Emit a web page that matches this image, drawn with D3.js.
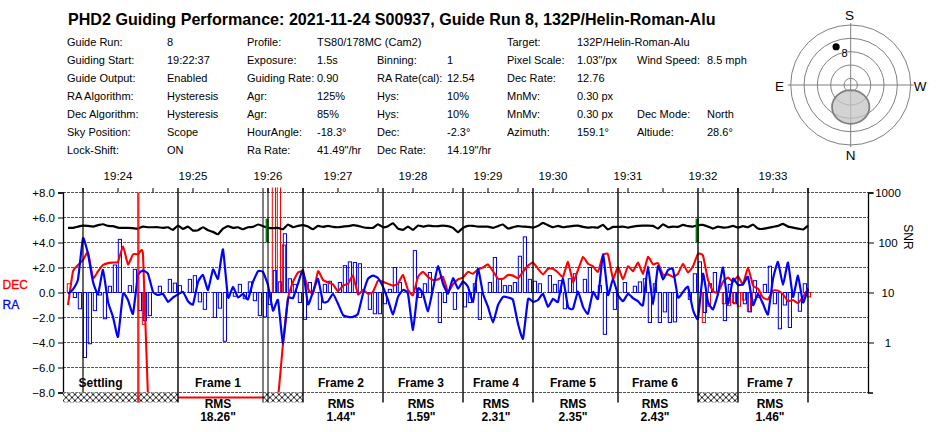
<!DOCTYPE html>
<html>
<head>
<meta charset="utf-8">
<script src="https://cdn.jsdelivr.net/npm/d3@7/dist/d3.min.js"></script>
<style>
html,body{margin:0;padding:0;background:#fff}
svg{display:block}
text{font-family:"Liberation Sans",Arial,sans-serif;fill:#000}
</style>
</head>
<body>
<svg id="c" width="950" height="432"></svg>
<script>
const titleText = "PHD2 Guiding Performance: 2021-11-24 S00937, Guide Run 8, 132P/Helin-Roman-Alu";

const infoCol1 = [["Guide Run:","8"],["Guiding Start:","19:22:37"],["Guide Output:","Enabled"],["RA Algorithm:","Hysteresis"],["Dec Algorithm:","Hysteresis"],["Sky Position:","Scope"],["Lock-Shift:","ON"]];
const infoCol2 = [["Profile:","TS80/178MC (Cam2)"],["Exposure:","1.5s"],["Guiding Rate:","0.90"],["Agr:","125%"],["Agr:","85%"],["HourAngle:","-18.3°"],["Ra Rate:","41.49\"/hr"]];
const infoCol3 = [null,["Binning:","1"],["RA Rate(cal):","12.54"],["Hys:","10%"],["Hys:","10%"],["Dec:","-2.3°"],["Dec Rate:","14.19\"/hr"]];
const infoCol4 = [["Target:","132P/Helin-Roman-Alu"],["Pixel Scale:","1.03\"/px"],["Dec Rate:","12.76"],["MnMv:","0.30 px"],["MnMv:","0.30 px"],["Azimuth:","159.1°"]];
const infoCol5 = [null,["Wind Speed:","8.5 mph"],null,null,["Dec Mode:","North"],["Altiude:","28.6°"]];

const raLine = [-0.1,0.25,1.05,4.35,3.1,0.85,-0.15,1.8,-0.75,-1.95,-3.55,-0.1,-0.6,-1.7,1.4,1.75,1.5,0.05,-0.2,-0.1,-0.75,-0.4,-0.15,0.05,-0.7,-0.95,0.85,1.4,0.2,1.85,1.1,3.45,-0.4,0.45,-0.4,
 -0.1,-0.55,0.85,1.7,1.65,0.6,-1.45,-0.6,-4.1,-0.5,-0.45,0.7,1.8,-0.95,0.05,1.1,-0.75,-0.7,-0.1,-0.9,-1.8,-1.95,-1.95,-1.7,-0.1,1.1,1.35,1.15,0.45,-0.6,-1.75,-0.35,0.2,-0.1,-3.0,0.3,-0.1,-1.5,0.3,2.1,0.7,-0.1,1.15,0.3,0.9,0.45,
 -0.75,1.9,-0.1,-1.15,-2.4,-1.0,-0.35,-0.4,-0.6,-2.5,-3.7,-0.55,-0.75,-0.6,-0.1,-1.15,-0.5,-0.75,1.1,-1.15,-1.3,0.1,-1.15,-1.7,0.05,-0.5,3.05,-0.2,1.1,-0.2,-0.7,-0.1,-0.45,-0.7,-1.0,2.1,-0.95,2.1,1.05,1.8,1.85,-0.4,0.05,0.45,-1.4,-2.1,
 1.5,-0.75,-1.35,-0.1,2.0,-0.9,1.1,0.6,0.65,1.25,-1.0,-0.1,-0.9,-1.75,1.1,2.45,0.6,2.4,-0.35,1.35,-0.8,0.3];

const decLine = [-1.0,1.7,2.2,2.6,3.2,1.15,1.7,2.2,2.35,2.4,2.45,3.7,2.25,3.05,3.05,3.05,-8.4,-8.4,-8.4,-8.4,-8.4,-8.4,-8.4,-8.4,-8.4,-8.4,-8.4,-8.4,-8.4,-8.4,-8.4,-8.4,-8.4,-8.4,-8.4,-8.4,-8.4,-8.4,-8.4,-8.4,-8.4,-8.4,-8.4,
 -4.1,-0.5,0.85,1.6,1.65,0.3,-0.1,1.7,1.0,0.8,0.65,0.1,0.55,0.7,1.35,-0.15,0.2,-0.1,0.05,0.95,0.85,0.7,0.55,0.7,1.4,0.2,-0.2,1.25,1.65,1.25,1.0,1.05,1.25,0.05,0.65,1.05,1.2,1.65,
 1.5,1.85,2.0,2.25,1.7,1.1,1.1,1.4,1.35,1.15,1.65,2.15,2.4,1.9,1.45,1.9,1.9,1.6,1.25,2.45,0.85,1.8,2.85,2.3,2.1,1.65,3.0,3.05,1.1,2.05,1.05,2.1,1.7,2.4,1.5,2.85,2.25,2.35,1.4,1.45,1.25,1.5,2.3,1.6,2.1,3.1,
 2.95,1.0,0.1,0,0.85,1.2,0.85,1.3,0.65,2.0,0.55,0.3,-0.4,-0.55,0.15,0.15,-0.15,-0.7,-0.6,-0.85,-0.35,0.3];

const snrLine = [196,196,208,218,215,208,222,232,215,212,199,196,196,193,190,208,202,202,202,196,202,179,218,187,208,173,176,202,176,163,146,190,212,196,202,
 184,202,205,229,212,196,193,196,184,229,202,215,222,208,184,215,205,215,205,202,208,212,222,215,202,196,196,232,202,212,243,190,179,208,179,218,208,218,212,212,218,212,196,161,196,215,
 215,208,208,208,196,212,229,190,202,212,208,205,199,215,247,222,202,215,202,208,215,218,205,199,202,199,225,182,205,205,208,199,208,215,218,218,215,190,232,202,208,205,225,212,208,222,
 225,208,190,208,199,202,215,199,212,202,229,190,187,196,205,215,236,208,199,190,182,218];

const raBars = [0,-0.4,-1.3,-5.2,-4.1,-1.45,-0.2,-2.1,0.5,2.2,4.25,0,0.55,1.85,-1.45,-2.25,-1.85,0,0.5,0,1.05,0.75,0.55,0,1.05,1.35,-0.75,-1.35,0,-2.0,-1.25,-3.9,0,-0.3,0.65,
 -0.5,0.85,-0.65,-1.85,-1.95,-0.95,1.75,0.85,4.7,1.1,0.65,-0.8,-2.15,0.8,0,-1.35,0.65,0.9,0,0.8,2.15,2.45,2.4,2.3,0,-1.35,-1.7,-1.7,-0.9,0.25,2.0,0.8,0,0,3.35,-0.4,0.7,1.6,0,-2.4,-0.8,0,-1.35,0,-1.15,-0.8,
 0.7,-2.15,0,0.8,2.8,1.1,0.55,0.55,0.8,2.9,4.45,1.05,0.9,0.7,0,1.35,0.65,0.95,-1.3,1.1,1.5,0,1.05,2.0,0,0.55,-3.35,0,-1.35,0,0.8,0,0.5,0.85,1.1,-2.4,0.7,-2.4,-1.55,-2.4,-2.35,0,0,-0.55,1.5,
 2.45,-1.6,0.7,1.6,0,-2.25,0.65,-0.9,0,-0.9,-1.55,0.95,0,0.65,2.1,-0.9,-2.9,-1.0,-2.8,0,-1.5,0.7,0];

// DEC guide pulses: [sample index, value]; off-scale ones run up past the plot top
const decBars = [[0,0.7],[15,-2.55],[41,12],[42,12],[43,3.8],[127,-2.4],[128,-1.1],[131,-0.9],[132,-1.05],[133,-0.8],[134,-1.1],[135,-0.6],[136,-1.5],[137,-0.6],[138,-0.4],[148,-0.35]];
const decSpikes = [14];
const ditherMarks = [40,126];

const yTicks = [8,6,4,2,0,-2,-4,-6,-8];
const snrTicks = [1000,100,10,1];
const timeIdx = [10,25,40,54,69,84,97,112,127,141];
const timeLabels = ["19:24","19:25","19:26","19:27","19:28","19:29","19:30","19:31","19:32","19:33"];
const minorIdx = [3,17,32,47,62,77,90,104,119,134,148];
const frameEdges = [22,39,40,47,63,79,93,110,126,134,148];
const thinEdges = [39,40];
const hatchSpans = [[-1,22],[39,47],[126,134]];
const frameNames = ["Settling","Frame 1","Frame 2","Frame 3","Frame 4","Frame 5","Frame 6","Frame 7"];
const frameCentres = [6.5,30,54.6,70.6,85.6,101,117.4,140.4];
const rmsNames = [null,"18.26\"","1.44\"","1.59\"","2.31\"","2.35\"","2.43\"","1.46\""];

const polarRings = [0,20,40,60,80];
const targetAz = 159.1, targetAlt = 28.6;
const blobAlt = 57, blobAltRadius = 28;

const svg = d3.select("#c");
const x = d3.scaleLinear().domain([-1,160]).range([63,868]);
const y = d3.scaleLinear().domain([-8,8]).range([392.5,192.5]);
const snrY = d3.scaleLog().domain([0.1,1000]).range([392.5,192.5]);

// title
svg.append("text").attr("x",68).attr("y",25).attr("font-size",16.1).attr("font-weight","bold").text(titleText);

// info table
const rowY = d3.scaleLinear().domain([0,6]).range([46,154]);
function info(rows,xl,xv){
  rows.forEach((r,i)=>{ if(!r) return;
    svg.append("text").attr("x",xl).attr("y",rowY(i)).attr("font-size",11).text(r[0]);
    svg.append("text").attr("x",xv).attr("y",rowY(i)).attr("font-size",11).text(r[1]);
  });
}
info(infoCol1,67,167); info(infoCol2,247,317); info(infoCol3,377,447); info(infoCol4,507,577); info(infoCol5,637,707);

// defs
const defs = svg.append("defs");
const pat = defs.append("pattern").attr("id","hatch").attr("width",6).attr("height",6).attr("patternUnits","userSpaceOnUse")
  .attr("x",63).attr("y",394.5);
pat.append("rect").attr("width",6).attr("height",6).attr("fill","#fff");
pat.append("path").attr("d","M0,0L6,6M6,0L0,6").attr("stroke","#222").attr("stroke-width",1);
defs.append("clipPath").attr("id","plot").append("rect").attr("x",63).attr("y",187.5).attr("width",805).attr("height",215);

// grid
svg.append("g").selectAll("line").data(yTicks).join("line")
  .attr("x1",63).attr("x2",868).attr("y1",d=>y(d)).attr("y2",d=>y(d))
  .attr("stroke","#555").attr("stroke-width",1).attr("stroke-dasharray","3,1");

// axes
const left = svg.append("g").attr("transform","translate(63,0)")
  .call(d3.axisLeft(y).tickValues(yTicks).tickSize(5).tickFormat(d=>d>0?"+"+d3.format(".1f")(d):d3.format(".1f")(d)));
const right = svg.append("g").attr("transform","translate(868,0)")
  .call(d3.axisRight(snrY).tickValues(snrTicks).tickSize(5).tickFormat(d3.format("d")));
[left,right].forEach(g=>{
  g.select(".domain").attr("stroke","#000").attr("stroke-width",1.3);
  g.selectAll("line").attr("stroke","#000");
  g.selectAll("text").attr("font-size",11.5).attr("font-family",'"Liberation Sans",Arial,sans-serif').attr("fill","#000");
});
right.selectAll("text").attr("x",20).attr("text-anchor","middle");
left.selectAll("text").attr("x",-8);
right.selectAll(".tick line").attr("x2",6);

// bars
const plot = svg.append("g").attr("clip-path","url(#plot)");
const barW = 3.2;
plot.append("g").selectAll("rect").data(decBars).join("rect")
  .attr("x",d=>x(d[0])-0.7).attr("width",barW)
  .attr("y",d=>y(Math.max(d[1],0))).attr("height",d=>Math.abs(y(d[1])-y(0)))
  .attr("fill","none").attr("stroke","#f00").attr("stroke-width",1);
plot.append("g").selectAll("rect").data(raBars.map((v,i)=>[i,v])).join("rect")
  .attr("x",d=>x(d[0])+0.3).attr("width",barW)
  .attr("y",d=>y(Math.max(d[1],0))).attr("height",d=>Math.abs(y(d[1])-y(0)))
  .attr("fill","none").attr("stroke","#00f").attr("stroke-width",1);

// lines
const curve = d3.curveCardinal.tension(0.6);
const mk = yy => d3.line().x((d,i)=>x(i)).y(d=>yy(d)).curve(curve);
plot.append("path").attr("d",mk(y)(decLine)).attr("fill","none").attr("stroke","#f00").attr("stroke-width",2.1);
plot.append("path").attr("d",mk(y)(raLine)).attr("fill","none").attr("stroke","#00f").attr("stroke-width",2.2);
plot.append("path").attr("d",mk(snrY)(snrLine)).attr("fill","none").attr("stroke","#000").attr("stroke-width",2.2);

// hatch
svg.append("g").selectAll("rect").data(hatchSpans).join("rect")
  .attr("x",d=>x(d[0])).attr("width",d=>x(d[1])-x(d[0])).attr("y",392.5).attr("height",10)
  .attr("fill","url(#hatch)");

// spikes, dither marks
svg.append("g").selectAll("line").data(decSpikes).join("line")
  .attr("x1",d=>x(d)+0.3).attr("x2",d=>x(d)+0.3).attr("y1",192.5).attr("y2",402.5)
  .attr("stroke","#f00").attr("stroke-opacity",0.85).attr("stroke-width",2.4);
svg.append("g").selectAll("line").data(ditherMarks).join("line")
  .attr("x1",d=>x(d)-0.8).attr("x2",d=>x(d)-0.8).attr("y1",snrY(300)).attr("y2",snrY(100))
  .attr("stroke","#0a7a14").attr("stroke-width",3.2);

// top ticks and frame lines
svg.append("g").selectAll("line").data(timeIdx.concat(minorIdx)).join("line")
  .attr("x1",d=>x(d)).attr("x2",d=>x(d)).attr("y1",188).attr("y2",192.5).attr("stroke","#000");
svg.append("line").attr("x1",x(3)).attr("x2",x(3)).attr("y1",188).attr("y2",392.5).attr("stroke","#000").attr("stroke-width",1.2);
svg.append("g").selectAll("line").data(frameEdges).join("line")
  .attr("x1",d=>x(d)).attr("x2",d=>x(d)).attr("y1",188).attr("y2",402.5)
  .attr("stroke","#000").attr("stroke-width",d=>thinEdges.includes(d)?1:1.4);

// time labels
svg.append("g").selectAll("text").data(timeIdx).join("text")
  .attr("x",d=>x(d)).attr("y",180).attr("text-anchor","middle").attr("font-size",11.5).text((d,i)=>timeLabels[i]);

// frame labels
svg.append("g").selectAll("text").data(frameNames).join("text")
  .attr("x",(d,i)=>x(frameCentres[i])).attr("y",387).attr("text-anchor","middle")
  .attr("font-size",12).attr("font-weight","bold").text(d=>d);
const rms = svg.append("g");
rmsNames.forEach((r,i)=>{ if(!r) return;
  rms.append("text").attr("x",x(frameCentres[i])).attr("y",407.5).attr("text-anchor","middle").attr("font-size",12).attr("font-weight","bold").text("RMS");
  rms.append("text").attr("x",x(frameCentres[i])).attr("y",420.5).attr("text-anchor","middle").attr("font-size",12).attr("font-weight","bold").text(r);
});

// side labels
svg.append("text").attr("x",2.5).attr("y",289).attr("font-size",12).style("stroke","#f00").style("stroke-width",0.3).style("fill","#f00").text("DEC");
svg.append("text").attr("x",2.5).attr("y",309).attr("font-size",12).style("stroke","#00f").style("stroke-width",0.3).style("fill","#00f").text("RA");
svg.append("text").attr("transform","translate(904,237) rotate(90)").attr("text-anchor","middle").attr("font-size",12).text("SNR");

// polar inset
const cx = 850.7, cy = 85;
const rScale = d3.scaleLinear().domain([90,0]).range([0,60]);
const polar = svg.append("g");
polar.selectAll("circle").data(polarRings).join("circle")
  .attr("cx",cx).attr("cy",cy).attr("r",d=>rScale(d)).attr("fill","none").attr("stroke","#808080").attr("stroke-width",1);
polar.append("line").attr("x1",cx-63).attr("x2",cx+63).attr("y1",cy).attr("y2",cy).attr("stroke","#808080");
polar.append("line").attr("x1",cx).attr("x2",cx).attr("y1",cy-62).attr("y2",cy+62).attr("stroke","#808080");
const blobY = cy + rScale(blobAlt);
const blobR = rScale(90-blobAltRadius);
polar.append("ellipse").attr("cx",cx).attr("cy",blobY).attr("rx",blobR).attr("ry",blobR*0.9).attr("fill","#c4c4c4").attr("fill-opacity",0.75).attr("stroke","#808080").attr("stroke-width",1.8);
const tr = rScale(targetAlt), ta = targetAz*Math.PI/180;
const tx = cx - tr*Math.sin(ta), ty = cy + tr*Math.cos(ta);
polar.append("circle").attr("cx",tx).attr("cy",ty).attr("r",3.6).attr("fill","#000");
polar.append("text").attr("x",tx+8.5).attr("y",ty+10.5).attr("text-anchor","middle").attr("font-size",11).text("8");
[["S",849.5,20],["N",850.5,160],["E",779.5,90.5],["W",920,90.5]].forEach(d=>{
  polar.append("text").attr("x",d[1]).attr("y",d[2]).attr("text-anchor","middle").attr("font-size",13.5).text(d[0]);
});
</script>
</body>
</html>
